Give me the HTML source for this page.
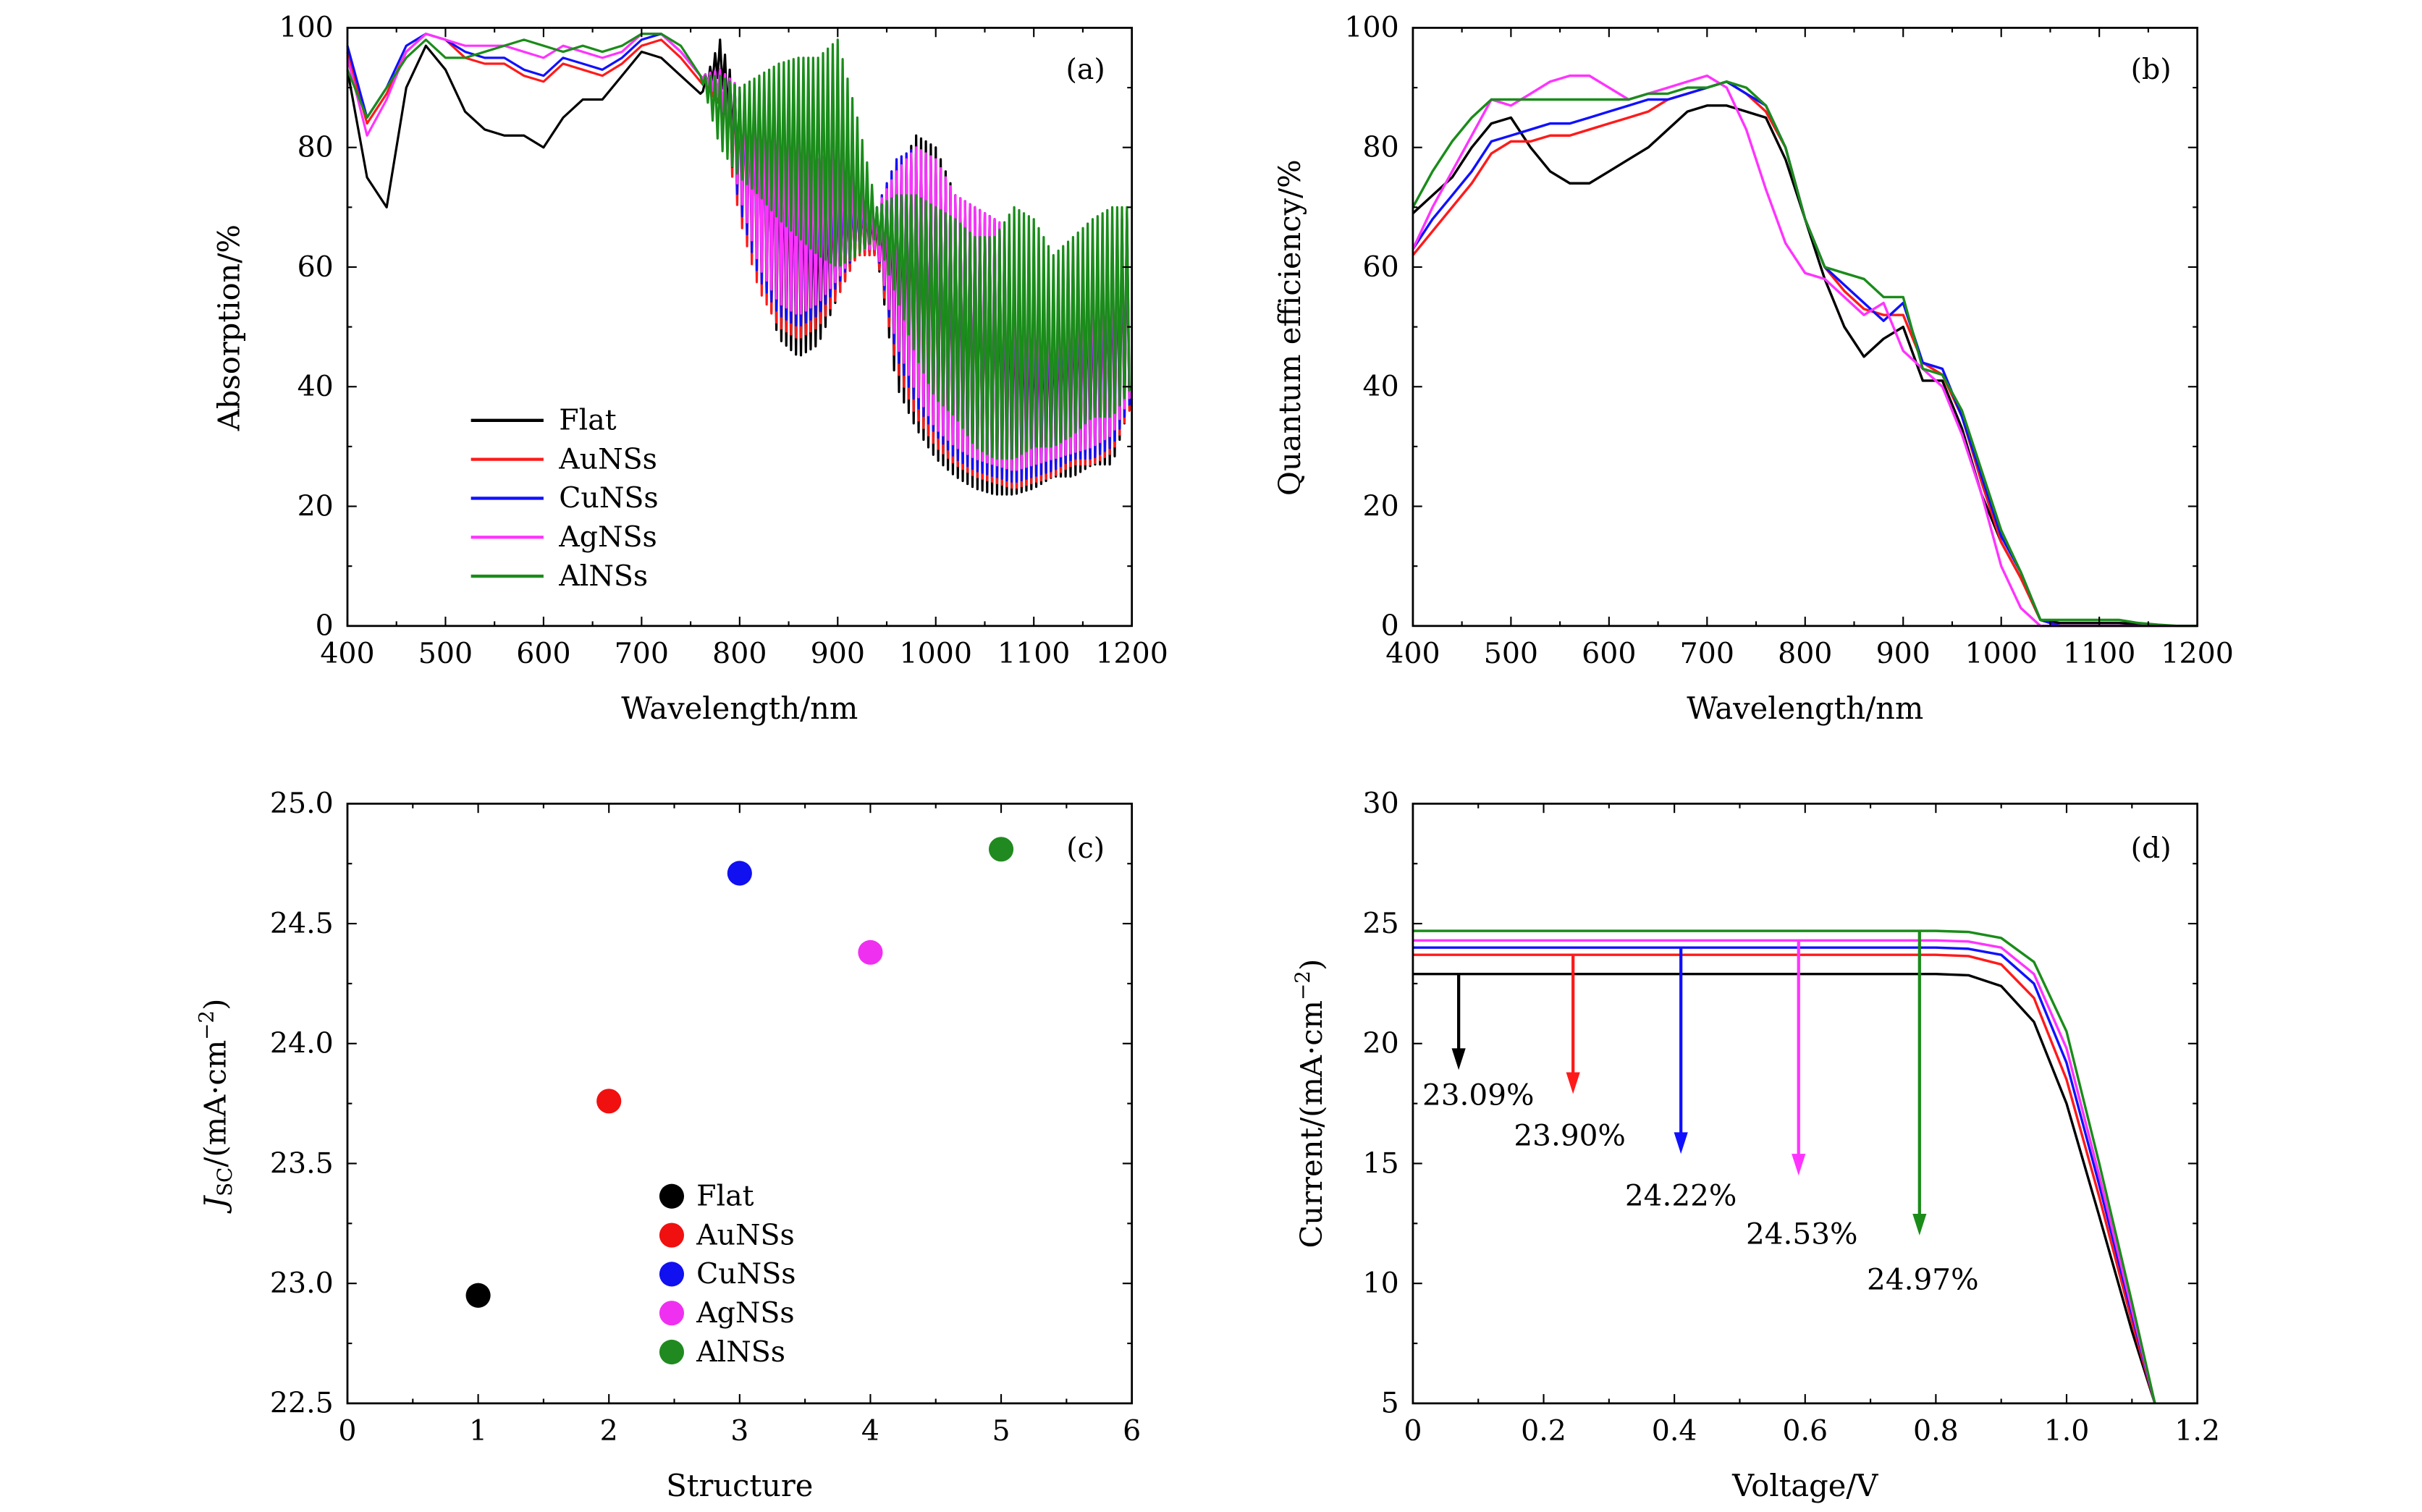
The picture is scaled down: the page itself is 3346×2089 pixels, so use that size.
<!DOCTYPE html>
<html><head><meta charset="utf-8">
<style>
html,body{margin:0;padding:0;background:#fff;}
svg{display:block;font-family:"DejaVu Serif","Liberation Serif",serif;}
svg text{font-family:"DejaVu Serif","Liberation Serif",serif;fill:#000;}
</style></head>
<body>
<svg id="fig" width="3346" height="2089" viewBox="0 0 1568.5 978.3" preserveAspectRatio="none" xmlns="http://www.w3.org/2000/svg" font-family="DejaVu Serif, Liberation Serif, serif"></svg>
<script>
// ---------- Panel (a) data ----------
const wlA = [400,420,440,460,480,500,520,540,560,580,600,620,640,660,680,700,720,740,760,780,800,820,840,860,880,900,920,940,960,980,1000,1020,1040,1060,1080,1100,1120,1140,1160,1180,1200];
const absFlatLo = [93,75,70,90,97,93,86,83,82,82,80,85,88,88,92,96,95,92,89,92,75,60,48,45,47,55,62,62,40,33,28,25,23,22,22,23,25,25,27,27,38];
const absFlatHi = [93,75,70,90,97,93,86,83,82,82,80,85,88,88,92,96,95,92,89,98,88,85,82,80,70,75,72,68,75,82,80,72,70,68,60,55,55,60,60,65,68];
const absAuLo = [96,84,89,96,99,98,95,94,94,92,91,94,93,92,94,97,98,95,91,87,68,56,50,48,50,55,62,62,43,35,30,27,25,24,23,24,25,27,27,29,37];
const absAuHi = [96,84,89,96,99,98,95,94,94,92,91,94,93,92,94,97,98,95,91,93,90,88,85,82,75,75,72,70,78,80,78,72,70,68,65,60,58,62,62,66,70];
const absCuLo = [97,85,90,97,99,98,96,95,95,93,92,95,94,93,95,98,99,96,92,88,70,58,52,50,52,57,63,63,45,37,32,28,26,25,24,25,26,28,28,30,38];
const absCuHi = [97,85,90,97,99,98,96,95,95,93,92,95,94,93,95,98,99,96,92,93,90,88,85,82,75,75,72,70,78,80,78,72,70,68,65,60,58,62,62,66,70];
const absAgLo = [95,82,88,96,99,98,97,97,97,96,95,97,96,95,96,99,99,96,92,88,72,60,54,52,54,58,63,63,47,39,33,30,28,27,26,27,28,29,30,32,39];
const absAgHi = [95,82,88,96,99,98,97,97,97,96,95,97,96,95,96,99,99,96,92,93,90,88,86,84,78,80,74,70,76,80,78,72,70,68,66,62,60,64,64,67,70];
const absAlLo = [93,85,90,95,98,95,95,96,97,98,97,96,97,96,97,99,99,97,92,80,75,72,68,65,62,60,62,65,55,45,38,35,30,28,28,30,30,32,35,35,40];
const absAlHi = [93,85,90,95,98,95,95,96,97,98,97,96,97,96,97,99,99,97,92,92,90,92,94,95,95,98,85,70,72,72,70,68,65,65,70,68,62,65,68,70,70];
// ---------- Panel (b) data ----------
const wlB = wlA;
const qeFlat = [69,72,75,80,84,85,80,76,74,74,76,78,80,83,86,87,87,86,85,78,68,58,50,45,48,50,41,41,33,22,14,8,1,0.5,0.5,0.5,0.5,0.3,0,0,0];
const qeAu = [62,66,70,74,79,81,81,82,82,83,84,85,86,88,89,90,91,89,86,80,68,60,56,53,52,52,44,42,35,24,14,8,1,0,0,0,0,0,0,0,0];
const qeCu = [63,68,72,76,81,82,83,84,84,85,86,87,88,88,89,90,91,89,87,80,68,60,57,54,51,54,44,43,35,25,15,9,1,0,0,0,0,0,0,0,0];
const qeAg = [63,70,76,82,88,87,89,91,92,92,90,88,89,90,91,92,90,83,73,64,59,58,55,52,54,46,43,40,32,22,10,3,0,0,0,0,0,0,0,0,0];
const qeAl = [70,76,81,85,88,88,88,88,88,88,88,88,89,89,90,90,91,90,87,80,68,60,59,58,55,55,43,42,36,26,16,9,1,1,1,1,1,0.5,0.2,0,0];
// ---------- Panel (c) data ----------
const structX = [1,2,3,4,5];
const jscVals = [22.95,23.76,24.71,24.38,24.81];
const names = ["Flat","AuNSs","CuNSs","AgNSs","AlNSs"];
const colors = ["#000000","#ff1a1a","#1010ff","#ff33ff","#1a8c1a"];
const dotColors = ["#000000","#f01010","#1010f0","#f030f0","#208a20"];
// ---------- Panel (d) data ----------
const volt = [0,0.1,0.2,0.3,0.4,0.5,0.6,0.7,0.8,0.85,0.9,0.95,1.0,1.05,1.1,1.135];
const ivFlat = [22.9,22.9,22.9,22.9,22.9,22.9,22.9,22.9,22.9,22.85,22.4,20.9,17.5,12.8,8,5];
const ivAu = [23.7,23.7,23.7,23.7,23.7,23.7,23.7,23.7,23.7,23.65,23.3,21.9,18.5,13.6,8.4,5];
const ivCu = [24.0,24.0,24.0,24.0,24.0,24.0,24.0,24.0,24.0,23.95,23.7,22.5,19.2,14.1,8.7,5];
const ivAg = [24.3,24.3,24.3,24.3,24.3,24.3,24.3,24.3,24.3,24.25,24.0,22.9,19.8,14.5,8.9,5];
const ivAl = [24.7,24.7,24.7,24.7,24.7,24.7,24.7,24.7,24.7,24.65,24.4,23.4,20.5,15.0,9.2,5];
const arrowV = [0.07,0.245,0.41,0.59,0.775];
const arrowTip = [18.9,17.9,15.4,14.5,12.0];
const effLabels = ["23.09%","23.90%","24.22%","24.53%","24.97%"];
const effLabelV = [0.1,0.24,0.41,0.595,0.78];
const effLabelI = [17.9,16.2,13.7,12.1,10.2];

const NS="http://www.w3.org/2000/svg";
const FONT="DejaVu Serif, Liberation Serif, serif";
const svg=document.getElementById('fig');
function mk(tag,attrs,parent){const e=document.createElementNS(NS,tag);for(const k in attrs)e.setAttribute(k,attrs[k]);(parent||svg).appendChild(e);return e;}
function txt(s,x,y,size,anchor,parent){const t=mk('text',{x:x,y:y,'font-size':size,'text-anchor':anchor||'middle','font-family':FONT},parent);t.textContent=s;return t;}
function scale(d0,d1,r0,r1){return v=>r0+(v-d0)*(r1-r0)/(d1-d0);}

function frame(name,x0,x1,y0,y1,xs,ys,xticks,yticks,xfmt,yfmt,xminor,yminor){
  const g=mk('g',{});
  
  
  mk('rect',{x:x0,y:y1,width:x1-x0,height:y0-y1,fill:'none',stroke:'#000','stroke-width':1.3},g);
  xticks.forEach(v=>{const X=xs(v);
    mk('line',{x1:X,x2:X,y1:y0,y2:y0-6,stroke:'#000','stroke-width':1},g);
    mk('line',{x1:X,x2:X,y1:y1,y2:y1+6,stroke:'#000','stroke-width':1},g);
    const t=txt(xfmt(v),X,y0+24,18.5,'middle',g);
    });
  yticks.forEach(v=>{const Y=ys(v);
    mk('line',{x1:x0,x2:x0+6,y1:Y,y2:Y,stroke:'#000','stroke-width':1},g);
    mk('line',{x1:x1,x2:x1-6,y1:Y,y2:Y,stroke:'#000','stroke-width':1},g);
    const t=txt(yfmt(v),x0-9,Y+6,18.5,'end',g);
    });
  (xminor||[]).forEach(v=>{const X=xs(v);
    mk('line',{x1:X,x2:X,y1:y0,y2:y0-3,stroke:'#000','stroke-width':1},g);
    mk('line',{x1:X,x2:X,y1:y1,y2:y1+3,stroke:'#000','stroke-width':1},g);});
  (yminor||[]).forEach(v=>{const Y=ys(v);
    mk('line',{x1:x0,x2:x0+3,y1:Y,y2:Y,stroke:'#000','stroke-width':1},g);
    mk('line',{x1:x1,x2:x1-3,y1:Y,y2:Y,stroke:'#000','stroke-width':1},g);});
  return g;
}
function range(a,b,s){const r=[];for(let v=a;v<=b+1e-9;v+=s)r.push(+v.toFixed(6));return r;}

// ===== Panel a =====
{
const xs=scale(400,1200,225,733), ys=scale(0,100,405,18);
const lo=[absFlatLo,absAuLo,absCuLo,absAgLo,absAlLo], hi=[absFlatHi,absAuHi,absCuHi,absAgHi,absAlHi];
const g=mk('g',{});


for(let s=0;s<5;s++){
  let d='';const teeth=8;let k=0;
  for(let i=0;i<wlA.length;i++){
    if(i===wlA.length-1||lo[s][i]===hi[s][i]&&lo[s][i+1]===hi[s][i+1]){
      d+=(d?'L':'M')+xs(wlA[i]).toFixed(1)+','+ys(lo[s][i]).toFixed(1);continue;}
    for(let t=0;t<teeth;t++){
      const f=t/teeth, w=wlA[i]+f*(wlA[i+1]-wlA[i]);
      const L=lo[s][i]+f*(lo[s][i+1]-lo[s][i]), H=hi[s][i]+f*(hi[s][i+1]-hi[s][i]);
      const v=(k++%2===0)?H:L;
      d+=(d?'L':'M')+xs(w).toFixed(1)+','+ys(v).toFixed(1);
    }
  }
  const p=mk('path',{d:d,fill:'none',stroke:colors[s],'stroke-width':1.5,'stroke-linejoin':'round'},g);
  
  
}
frame('panel-a',225,733,405,18,xs,ys,range(400,1200,100),range(0,100,20),v=>v,v=>v,range(450,1150,100),range(10,90,20));
txt('Wavelength/nm',479,465,19.5);
const yt=txt('Absorption/%',0,0,19.5);yt.setAttribute('transform','translate(155,212) rotate(-90)');
txt('(a)',703,51,18.5);
for(let s=0;s<5;s++){const Y=272+s*25.2;
  const l=mk('line',{x1:305,x2:352,y1:Y,y2:Y,stroke:colors[s],'stroke-width':2});
  
  const t=txt(names[s],362,Y+6,18.5,'start');}
}
// ===== Panel b =====
{
const xs=scale(400,1200,915,1423), ys=scale(0,100,405,18);
const series=[qeFlat,qeAu,qeCu,qeAg,qeAl];
const g=mk('g',{});


for(let s=0;s<5;s++){
  const d=wlB.map((w,i)=>(i?'L':'M')+xs(w).toFixed(1)+','+ys(series[s][i]).toFixed(1)).join('');
  const p=mk('path',{d:d,fill:'none',stroke:colors[s],'stroke-width':1.6,'stroke-linejoin':'round'},g);
  
  
}
frame('panel-b',915,1423,405,18,xs,ys,range(400,1200,100),range(0,100,20),v=>v,v=>v,range(450,1150,100),range(10,90,20));
txt('Wavelength/nm',1169,465,19.5);
const yt=txt('Quantum efficiency/%',0,0,19.5);yt.setAttribute('transform','translate(842,212) rotate(-90)');
txt('(b)',1393,51,18.5);
}
// ===== Panel c =====
{
const xs=scale(0,6,225,733), ys=scale(22.5,25,908,520);
frame('panel-c',225,733,908,520,xs,ys,range(0,6,1),range(22.5,25,0.5),v=>v,v=>v.toFixed(1),range(0.5,5.5,1),range(22.75,24.75,0.5));
for(let i=0;i<structX.length;i++){
  const c=mk('circle',{cx:xs(structX[i]),cy:ys(jscVals[i]),r:8,fill:dotColors[i]});
  
}
txt('Structure',479,968,19.5);
const yt=mk('text',{'font-size':19.5,'text-anchor':'middle','font-family':FONT,transform:'translate(146,714) rotate(-90)'});
yt.innerHTML='<tspan font-style="italic">J</tspan><tspan font-size="13" dy="4">SC</tspan><tspan dy="-4">/(mA·cm</tspan><tspan font-size="13" dy="-8">−2</tspan><tspan dy="8">)</tspan>';

txt('(c)',703,555,18.5);
for(let s=0;s<5;s++){const Y=774+s*25.2;
  const c=mk('circle',{cx:435,cy:Y,r:8,fill:dotColors[s]});
  
  const t=txt(names[s],451,Y+6,18.5,'start');}
}
// ===== Panel d =====
{
const xs=scale(0,1.2,915,1423), ys=scale(5,30,908,520);
const series=[ivFlat,ivAu,ivCu,ivAg,ivAl];
const g=mk('g',{});


for(let s=0;s<5;s++){
  const d=volt.map((v,i)=>(i?'L':'M')+xs(v).toFixed(1)+','+ys(series[s][i]).toFixed(1)).join('');
  const p=mk('path',{d:d,fill:'none',stroke:colors[s],'stroke-width':1.6,'stroke-linejoin':'round'},g);
  
  
}
for(let s=0;s<5;s++){
  const X=xs(arrowV[s]), Y0=ys(series[s][0]), Y1=ys(arrowTip[s]);
  const a=mk('g',{});
  
  
  mk('line',{x1:X,x2:X,y1:Y0,y2:Y1-10,stroke:colors[s],'stroke-width':2},a);
  mk('polygon',{points:`${X-4.5},${Y1-14} ${X+4.5},${Y1-14} ${X},${Y1}`,fill:colors[s]},a);
  const t=txt(effLabels[s],xs(effLabelV[s]),ys(effLabelI[s])+7,19,'middle');
  
}
frame('panel-d',915,1423,908,520,xs,ys,range(0,1.2,0.2),range(5,30,5),v=>v===0?'0':v.toFixed(1),v=>v,range(0.1,1.1,0.2),range(7.5,27.5,5));
txt('Voltage/V',1169,968,19.5);
const yt=mk('text',{'font-size':19.5,'text-anchor':'middle','font-family':FONT,transform:'translate(856,714) rotate(-90)'});
yt.innerHTML='Current/(mA·cm<tspan font-size="13" dy="-8">−2</tspan><tspan dy="8">)</tspan>';

txt('(d)',1393,555,18.5);
}
</script>
</body></html>
